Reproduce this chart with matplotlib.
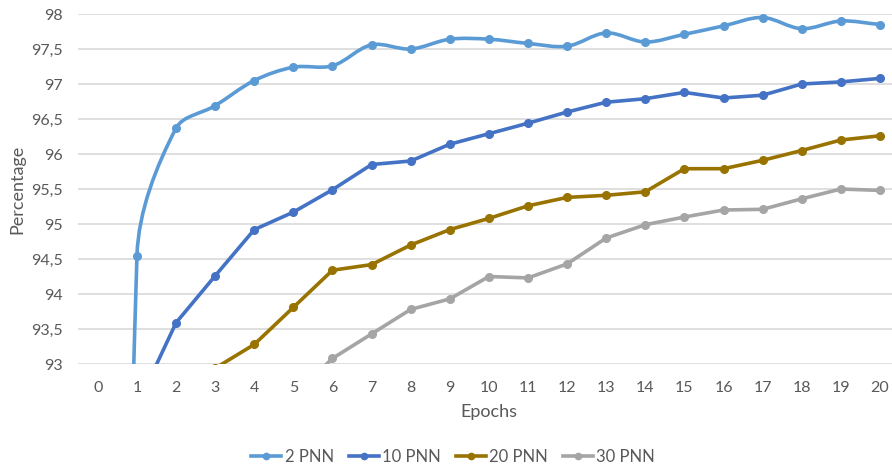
import numpy as np
import matplotlib.pyplot as plt
from matplotlib.path import Path
from matplotlib.patches import PathPatch
from matplotlib.lines import Line2D
from matplotlib.ticker import FuncFormatter

plt.rcParams['font.family'] = ['Lato', 'DejaVu Sans']

epochs = list(range(0, 21))
pnn_2 = [60.0, 94.55, 96.37, 96.69, 97.05, 97.24, 97.26, 97.56, 97.50, 97.64, 97.64,
         97.58, 97.54, 97.73, 97.60, 97.71, 97.83, 97.95, 97.79, 97.90, 97.85]
pnn_10 = [85.0, 92.40, 93.59, 94.26, 94.92, 95.17, 95.49, 95.85, 95.90, 96.14, 96.29,
          96.44, 96.60, 96.74, 96.79, 96.88, 96.80, 96.84, 97.00, 97.03, 97.08]
pnn_20 = [88.0, 91.50, 92.60, 92.94, 93.28, 93.81, 94.34, 94.42, 94.70, 94.92, 95.08,
          95.26, 95.38, 95.41, 95.46, 95.79, 95.79, 95.91, 96.05, 96.20, 96.26]
pnn_30 = [86.0, 88.5, 90.5, 91.5, 92.1, 92.55, 93.08, 93.43, 93.78, 93.93, 94.25,
          94.23, 94.43, 94.80, 94.99, 95.10, 95.20, 95.21, 95.36, 95.50, 95.48]

# (label, values, colour, smoothed)
series = [
    ('2 PNN', pnn_2, '#5B9BD5', True),
    ('10 PNN', pnn_10, '#4472C4', False),
    ('20 PNN', pnn_20, '#997300', False),
    ('30 PNN', pnn_30, '#A5A5A5', False),
]

text_color = '#595959'


def smooth_path(ax, xs, ys):
    # cubic bezier through the points, built in display space
    pts = ax.transData.transform(np.column_stack([xs, ys]))
    n = len(pts)
    verts = [pts[0]]
    codes = [Path.MOVETO]
    for i in range(n - 1):
        p0 = pts[i - 1] if i > 0 else pts[i]
        p1 = pts[i]
        p2 = pts[i + 1]
        p3 = pts[i + 2] if i + 2 < n else pts[i + 1]
        d01 = np.hypot(*(p1 - p0))
        d12 = np.hypot(*(p2 - p1))
        d23 = np.hypot(*(p3 - p2))
        f1 = d12 / (d01 + d12) / 3 if d01 + d12 > 0 else 0
        f2 = d12 / (d12 + d23) / 3 if d12 + d23 > 0 else 0
        c1 = p1 + f1 * (p2 - p0)
        c2 = p2 - f2 * (p3 - p1)
        verts += [c1, c2, p2]
        codes += [Path.CURVE4] * 3
    verts = ax.transData.inverted().transform(np.array(verts))
    return Path(verts, codes)


fig = plt.figure(figsize=(8.92, 4.70), dpi=100)
ax = fig.add_axes([0.0878, 0.2255, 0.9206, 0.7447])
ax.set_xlim(-0.5, 20.5)
ax.set_ylim(93, 98)

for label, values, color, smooth in series:
    if smooth:
        patch = PathPatch(smooth_path(ax, epochs, values), facecolor='none',
                          edgecolor=color, linewidth=2.6, capstyle='round',
                          joinstyle='round', zorder=3)
        ax.add_patch(patch)
    else:
        ax.plot(epochs, values, color=color, linewidth=2.6,
                solid_joinstyle='round', zorder=3)
    ax.plot(epochs, values, linestyle='none', marker='o', markersize=5.5,
            color=color, zorder=4)

ax.set_xticks(epochs)
ax.set_yticks(np.arange(93, 98.01, 0.5))
ax.yaxis.set_major_formatter(FuncFormatter(lambda v, p: f'{v:g}'.replace('.', ',')))
ax.grid(axis='y', color='#D9D9D9', linewidth=1.2)
ax.set_axisbelow(True)
for side in ['top', 'right', 'left', 'bottom']:
    ax.spines[side].set_visible(False)
ax.tick_params(length=0, labelsize=11.5, colors=text_color)
ax.tick_params(axis='x', pad=12)
ax.tick_params(axis='y', pad=11)

ax.set_xlabel('Epochs', fontsize=13, color=text_color, labelpad=7)
ax.set_ylabel('Percentage', fontsize=13, color=text_color, labelpad=4)

handles = [Line2D([], [], color=c, linewidth=2.6, marker='o', markersize=4.5)
           for _, _, c, _ in series]
fig.legend(handles, [s[0] for s in series], loc='center', ncol=4,
           bbox_to_anchor=(0.508, 0.028), frameon=False, fontsize=12,
           handlelength=1.8, handletextpad=0.2, columnspacing=0.9,
           labelcolor=text_color)

fig.savefig('out.png', dpi=100)
